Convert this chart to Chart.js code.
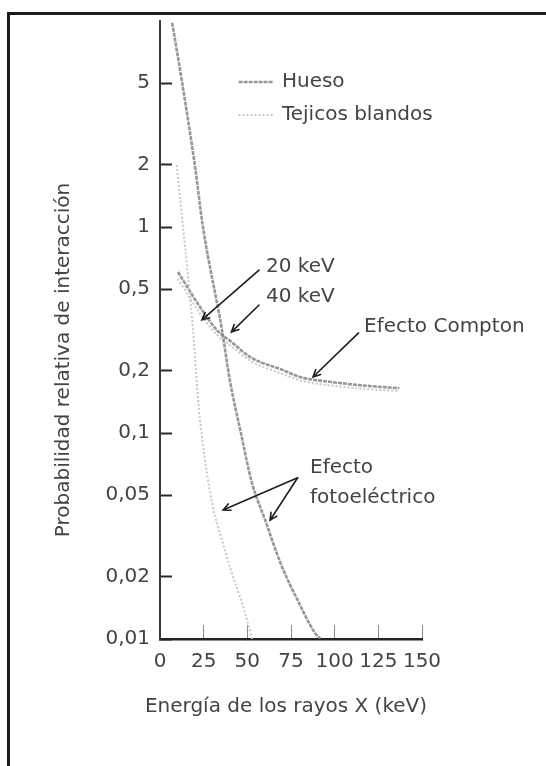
<!DOCTYPE html>
<html lang="es">
<head>
<meta charset="utf-8">
<title>Probabilidad relativa de interacción</title>
<script src="https://cdn.jsdelivr.net/npm/chart.js@4.4.1/dist/chart.umd.min.js"></script>
<style>
  html, body { margin: 0; padding: 0; background: #fff; }
  #wrap { position: relative; width: 546px; height: 766px; overflow: hidden; }
  #wrap canvas { position: absolute; left: 0; top: 0; }
  #frame {
    position: absolute; left: 7px; top: 12px; right: -10px; bottom: -10px;
    border-left: 3px solid #1c1c1c; border-top: 3px solid #1c1c1c;
    pointer-events: none;
  }
</style>
</head>
<body>
<div id="wrap">
  <canvas id="chart" width="546" height="766"></canvas>
  <div id="frame"></div>
</div>
<script>
(() => {
  "use strict";

  // axes
  const xTicks = [0, 25, 50, 75, 100, 125, 150];
  const yTicks = [0.01, 0.02, 0.05, 0.1, 0.2, 0.5, 1, 2, 5];
  const yTickLabels = ["0,01", "0,02", "0,05", "0,1", "0,2", "0,5", "1", "2", "5"];
  const xTitle = "Energía de los rayos X (keV)";
  const yTitle = "Probabilidad relativa de interacción";

  const materials = ["Hueso", "Tejicos blandos"];

  // efecto fotoeléctrico (keV, probabilidad)
  const bonePhotoKeV = [7, 12.6, 20, 24.6, 35.5, 40, 46, 52.7, 60.1, 69.3, 79, 88.7, 92];
  const bonePhoto = [9.8, 5.06, 1.98, 1.0, 0.316, 0.18, 0.103, 0.057, 0.038, 0.023, 0.0153, 0.0107, 0.01];
  const softPhotoKeV = [9.5, 13.2, 18.9, 21.8, 24, 29.8, 35.5, 40, 45.8, 49.8, 52.7];
  const softPhoto = [2.0, 1.0, 0.316, 0.145, 0.096, 0.0457, 0.0302, 0.0224, 0.016, 0.0124, 0.01];

  // efecto Compton
  const comptonKeV = [10.3, 22.9, 32.6, 41.8, 51.5, 70.4, 80.1, 97.9, 120, 137];
  const boneCompton = [0.605, 0.409, 0.316, 0.273, 0.234, 0.202, 0.187, 0.177, 0.169, 0.165];
  const softCompton = [0.56, 0.38, 0.3, 0.26, 0.225, 0.193, 0.18, 0.17, 0.163, 0.16];

  const FONT = "'DejaVu Sans', sans-serif";
  const FONT_SIZE = 20;
  const FONT_WEIGHT = 400;
  const INK = "#444";
  const BONE = { color: "rgba(125,125,125,0.8)", width: 2.6, dash: [4, 1] };
  const SOFT = { color: "#c8c8c8", width: 2, dash: [2, 2] };

  // annotation text and arrows, placed in data units (keV, probabilidad)
  const notes = [
    { text: "20 keV", x: 60.7, y: 0.64 },
    { text: "40 keV", x: 60.7, y: 0.46 },
    { text: "Efecto Compton", x: 116.8, y: 0.327 },
    { text: "Efecto", x: 85.9, y: 0.0676 },
    { text: "fotoeléctrico", x: 85.9, y: 0.0483 },
  ];
  const arrows = [
    { from: [56.7, 0.618], to: [24.0, 0.354] },
    { from: [56.7, 0.418], to: [40.9, 0.309] },
    { from: [113.7, 0.306], to: [87.6, 0.187] },
    { from: [78.8, 0.0606], to: [36.1, 0.0423] },
    { from: [78.8, 0.0606], to: [63.0, 0.0377] },
  ];
  const legendAt = { x0: 45, x1: 64.9, text: 69.8, rows: [5.06, 3.5] };

  const toPoints = (xs, ys) => xs.map((x, i) => ({ x, y: ys[i] }));

  function curve(label, xs, ys, style) {
    return {
      label,
      data: toPoints(xs, ys),
      borderColor: style.color,
      borderWidth: style.width,
      borderDash: style.dash,
      pointRadius: 0,
      fill: false,
      cubicInterpolationMode: "monotone",
    };
  }

  function drawArrow(ctx, x1, y1, x2, y2) {
    const ang = Math.atan2(y2 - y1, x2 - x1);
    const head = 8;
    ctx.beginPath();
    ctx.moveTo(x1, y1);
    ctx.lineTo(x2, y2);
    ctx.moveTo(x2 - head * Math.cos(ang - 0.45), y2 - head * Math.sin(ang - 0.45));
    ctx.lineTo(x2, y2);
    ctx.lineTo(x2 - head * Math.cos(ang + 0.45), y2 - head * Math.sin(ang + 0.45));
    ctx.stroke();
  }

  const figureNotes = {
    id: "figureNotes",
    afterDraw(chart) {
      const { ctx, chartArea } = chart;
      const sx = chart.scales.x;
      const sy = chart.scales.y;
      const px = (v) => sx.getPixelForValue(v);
      const py = (v) => sy.getPixelForValue(v);

      ctx.save();
      ctx.font = `${FONT_WEIGHT} ${FONT_SIZE}px ${FONT}`;
      ctx.fillStyle = INK;
      ctx.textBaseline = "middle";
      ctx.textAlign = "left";
      notes.forEach((n) => ctx.fillText(n.text, px(n.x), py(n.y)));

      ctx.strokeStyle = "#1e1e1e";
      ctx.lineWidth = 1.6;
      ctx.lineCap = "round";
      arrows.forEach((a) => drawArrow(ctx, px(a.from[0]), py(a.from[1]), px(a.to[0]), py(a.to[1])));

      // legend
      [BONE, SOFT].forEach((st, i) => {
        const ly = py(legendAt.rows[i]);
        ctx.save();
        ctx.strokeStyle = st.color;
        ctx.lineWidth = st.width;
        ctx.setLineDash(st.dash);
        ctx.lineCap = "butt";
        ctx.beginPath();
        ctx.moveTo(px(legendAt.x0), ly);
        ctx.lineTo(px(legendAt.x1), ly);
        ctx.stroke();
        ctx.restore();
        ctx.fillText(materials[i], px(legendAt.text), ly);
      });

      // axis titles
      ctx.textAlign = "center";
      ctx.fillText(xTitle, (chartArea.left + chartArea.right) / 2 - 5, chartArea.bottom + 68);
      ctx.translate(64, chartArea.top + 339);
      ctx.rotate(-Math.PI / 2);
      ctx.fillText(yTitle, 0, 0);
      ctx.restore();
    },
  };

  const tickFont = { family: FONT, size: FONT_SIZE, weight: FONT_WEIGHT };

  new Chart(document.getElementById("chart"), {
    type: "line",
    data: {
      datasets: [
        curve(materials[0], bonePhotoKeV, bonePhoto, BONE),
        curve(materials[1], softPhotoKeV, softPhoto, SOFT),
        curve(materials[0], comptonKeV, boneCompton, BONE),
        curve(materials[1], comptonKeV, softCompton, SOFT),
      ],
    },
    options: {
      responsive: false,
      animation: false,
      layout: { padding: { top: 21, right: 124, left: 0, bottom: 0 } },
      plugins: { legend: { display: false }, tooltip: { enabled: false } },
      scales: {
        x: {
          type: "linear",
          min: 0,
          max: 150,
          afterBuildTicks: (s) => { s.ticks = xTicks.map((v) => ({ value: v })); },
          afterFit: (s) => { s.height = 127; },
          border: { color: "#222", width: 2.5 },
          grid: { drawOnChartArea: false, tickLength: -14, tickColor: "#8a8a8a", tickWidth: 1 },
          ticks: { padding: 25, color: INK, font: tickFont, maxRotation: 0, autoSkip: false },
        },
        y: {
          type: "logarithmic",
          min: 0.01,
          max: 10,
          afterBuildTicks: (s) => { s.ticks = yTicks.map((v) => ({ value: v })); },
          afterFit: (s) => {
            s.width = 160;
            s.paddingTop = 0;
            s.paddingBottom = 0;
          },
          border: { color: "#3a3a3a", width: 2, dash: [4, 2] },
          grid: { drawOnChartArea: false, tickLength: -12, tickColor: "#2a2a2a", tickWidth: 2 },
          ticks: {
            padding: 22,
            color: INK,
            font: tickFont,
            autoSkip: false,
            callback: (v, i) => yTickLabels[i],
          },
        },
      },
    },
    plugins: [figureNotes],
  });
})();
</script>
</body>
</html>
